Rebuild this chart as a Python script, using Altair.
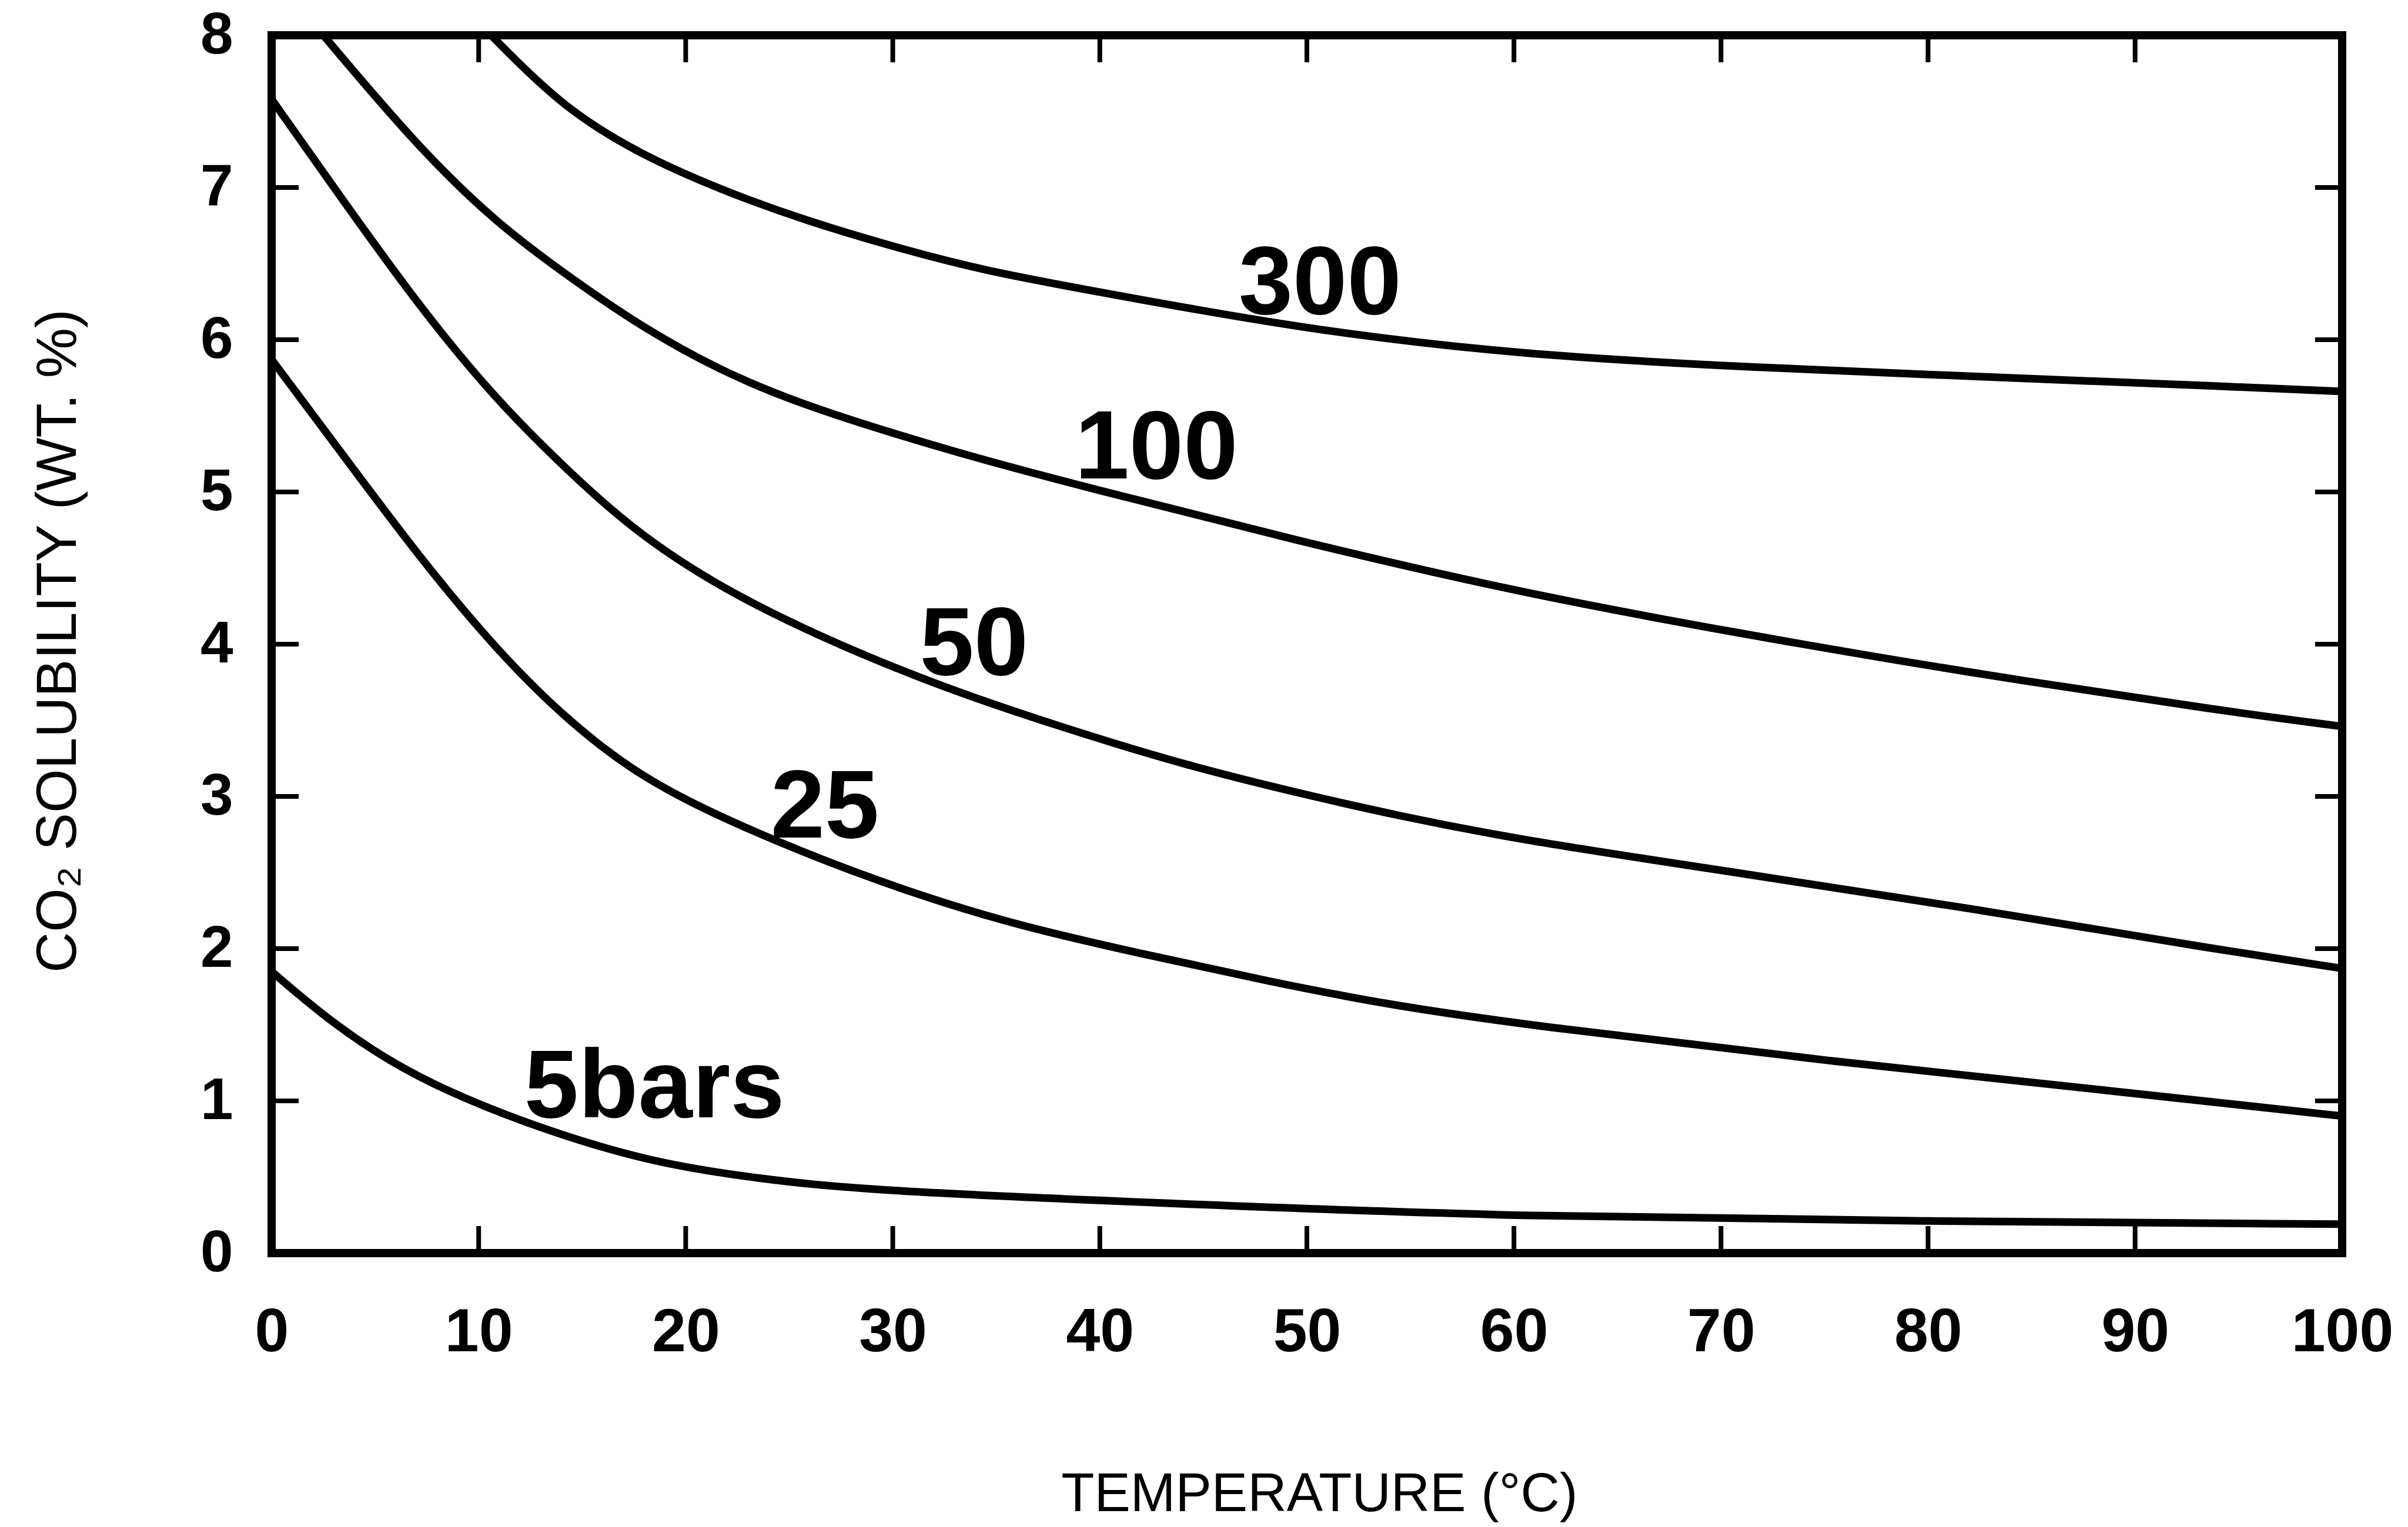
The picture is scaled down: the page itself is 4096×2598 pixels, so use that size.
import altair as alt
import pandas as pd

# ---- data (temperature °C, CO2 solubility wt.%) ----
temp_300 = [10.6, 14.1, 17.9, 21.8, 25.6, 30.8, 34.6, 38.9, 49.7, 60.4, 71.2, 81.9, 95.1, 100]
sol_300 = [8.0, 7.52, 7.21, 6.98, 6.79, 6.58, 6.45, 6.34, 6.07, 5.90, 5.82, 5.76, 5.69, 5.66]

temp_100 = [2.5, 7.1, 10.9, 14.5, 17.8, 21.6, 25.5, 30.6, 34.4, 38.8, 49.5, 60.2, 70.9, 81.6, 94.8, 100]
sol_100 = [8.0, 7.26, 6.76, 6.40, 6.09, 5.80, 5.58, 5.36, 5.21, 5.05, 4.68, 4.34, 4.07, 3.82, 3.55, 3.46]

temp_50 = [0, 2.9, 7.0, 10.8, 14.3, 17.6, 22.8, 31.4, 37.8, 44.2, 50.6, 54.2, 60.0, 70.7, 81.4, 94.6, 100]
sol_50 = [7.58, 7.02, 6.24, 5.61, 5.14, 4.73, 4.27, 3.76, 3.47, 3.20, 2.99, 2.88, 2.72, 2.50, 2.28, 1.98, 1.87]

temp_25 = [0, 2.7, 6.8, 10.6, 14.1, 17.4, 20.5, 24.1, 29.1, 35.4, 41.9, 48.3, 54.0, 60.5, 75.2, 90.0, 100]
sol_25 = [5.87, 5.38, 4.63, 4.00, 3.52, 3.17, 2.94, 2.72, 2.45, 2.17, 1.97, 1.78, 1.63, 1.50, 1.26, 1.05, 0.90]

temp_5 = [0, 3.0, 6.8, 12.2, 18.4, 23.5, 28.7, 44.4, 59.7, 79.7, 100]
sol_5 = [1.85, 1.50, 1.16, 0.85, 0.59, 0.49, 0.41, 0.32, 0.24, 0.21, 0.19]

label_text = ["300", "100", "50", "25", "5bars"]
label_temp = [46.7, 38.8, 31.3, 24.1, 12.2]
label_sol = [6.17, 5.09, 3.80, 2.73, 0.89]

x_tick_values = [0, 10, 20, 30, 40, 50, 60, 70, 80, 90, 100]
y_tick_values = [0, 1, 2, 3, 4, 5, 6, 7, 8]
inner_x_ticks = [10, 20, 30, 40, 50, 60, 70, 80, 90]
inner_y_ticks = [1, 2, 3, 4, 5, 6, 7]

# ---- build tables ----
rows = []
for name, ts, ss in [("300", temp_300, sol_300), ("100", temp_100, sol_100),
                     ("50", temp_50, sol_50), ("25", temp_25, sol_25),
                     ("5", temp_5, sol_5)]:
    for t, s in zip(ts, ss):
        rows.append({"series": name, "T": t, "S": s})
curves = pd.DataFrame(rows)
labels = pd.DataFrame({"text": label_text, "T": label_temp, "S": label_sol})
xt = pd.DataFrame({"v": inner_x_ticks})
yt = pd.DataFrame({"v": inner_y_ticks})

W, H = 3522, 2072
TICK = 46
FONT = "Liberation Sans"
xscale = alt.Scale(domain=[0, 100], nice=False, zero=False)
yscale = alt.Scale(domain=[0, 8], nice=False, zero=False)

x_axis = alt.Axis(values=x_tick_values, format="d", grid=False, domain=False, ticks=False,
                  tickSize=0, labelPadding=84, labelFont=FONT, labelFontWeight="bold",
                  labelFontSize=104, labelColor="black", labelFlush=False,
                  title="TEMPERATURE (°C)", titleFont=FONT,
                  titleFontSize=92, titleFontWeight="normal", titleColor="black",
                  titleX=1782, titleY=438, titleAlign="center", titleBaseline="alphabetic")
y_axis = alt.Axis(values=y_tick_values, format="d", grid=False, domain=False, ticks=False,
                  tickSize=0, labelPadding=66, labelFont=FONT, labelFontWeight="bold",
                  labelFontSize=100, labelColor="black", labelFlush=False,
                  title="CO₂ SOLUBILITY (WT. %)", titleFont=FONT,
                  titleFontSize=96, titleFontWeight="normal", titleColor="black",
                  titleX=-363, titleY=1030, titleAngle=-90, titleAlign="center",
                  titleBaseline="middle")

lines = alt.Chart(curves).mark_line(color="black", strokeWidth=13, interpolate="basis",
                                    strokeCap="round", strokeJoin="round").encode(
    x=alt.X("T:Q", scale=xscale, axis=x_axis),
    y=alt.Y("S:Q", scale=yscale, axis=y_axis),
    detail="series:N",
)

texts = alt.Chart(labels).mark_text(align="left", baseline="alphabetic", font=FONT,
                                    fontSize=166, fontWeight="bold", color="black").encode(
    x=alt.X("T:Q", scale=xscale),
    y=alt.Y("S:Q", scale=yscale),
    text="text:N",
)

bottom_ticks = alt.Chart(xt).mark_rule(color="black", strokeWidth=8).encode(
    x=alt.X("v:Q", scale=xscale), y=alt.value(H), y2=alt.value(H - TICK))
top_ticks = alt.Chart(xt).mark_rule(color="black", strokeWidth=8).encode(
    x=alt.X("v:Q", scale=xscale), y=alt.value(0), y2=alt.value(TICK))
left_ticks = alt.Chart(yt).mark_rule(color="black", strokeWidth=8).encode(
    y=alt.Y("v:Q", scale=yscale), x=alt.value(0), x2=alt.value(TICK))
right_ticks = alt.Chart(yt).mark_rule(color="black", strokeWidth=8).encode(
    y=alt.Y("v:Q", scale=yscale), x=alt.value(W), x2=alt.value(W - TICK))

chart = alt.layer(lines, texts, bottom_ticks, top_ticks, left_ticks, right_ticks).properties(
    width=W, height=H,
    autosize=alt.AutoSizeParams(type="none"),
    padding={"left": 462, "top": 60, "right": 112, "bottom": 466},
    background="white",
).configure_view(stroke="black", strokeWidth=14)

chart.save("out.html", embed_options={"renderer": "svg", "actions": False})
